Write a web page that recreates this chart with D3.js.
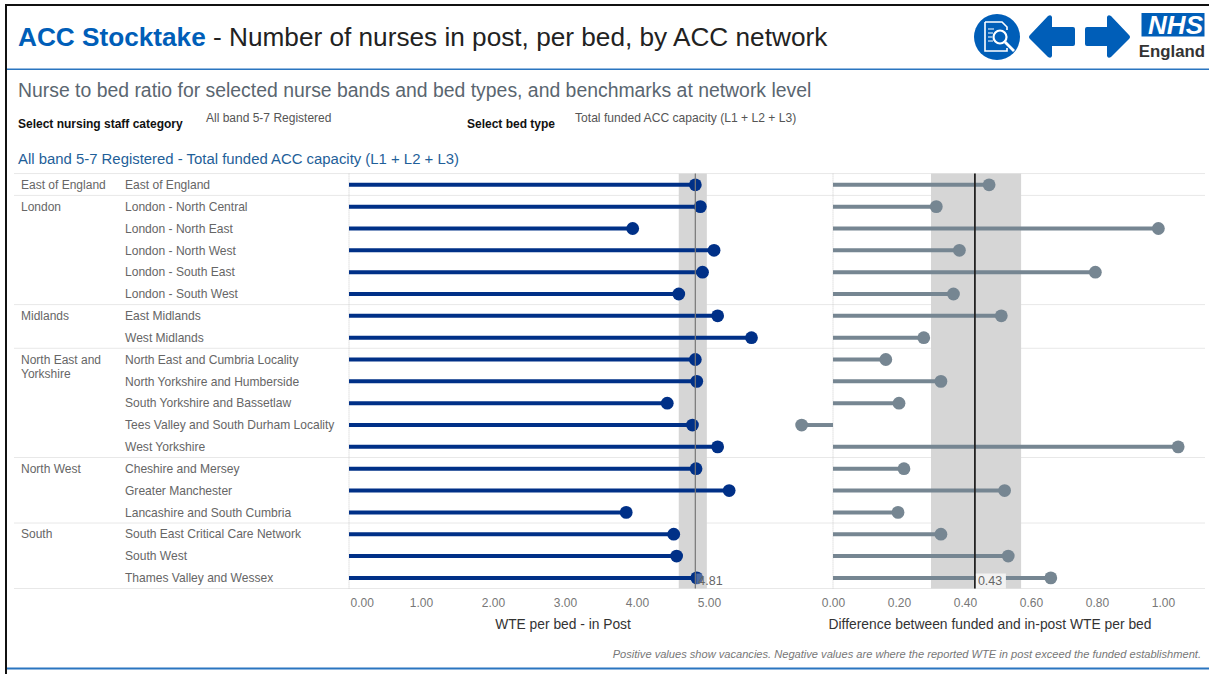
<!DOCTYPE html>
<html>
<head>
<meta charset="utf-8">
<script src="https://cdn.jsdelivr.net/npm/d3@7"></script>
<style>
html,body{margin:0;padding:0;background:#fff;}
svg{display:block;font-family:"Liberation Sans",Arial,sans-serif;}
.domain{display:none}
</style>
</head>
<body>
<svg id="chart" width="1209" height="674"></svg>
<script>
// ACC network nurse staffing figures
const regions = ["East of England","London","Midlands","North East and Yorkshire","North West","South"];
const regionSizes = [1,5,2,5,3,3];
const networks = [
  "East of England","London - North Central","London - North East","London - North West",
  "London - South East","London - South West","East Midlands","West Midlands",
  "North East and Cumbria Locality","North Yorkshire and Humberside","South Yorkshire and Bassetlaw",
  "Tees Valley and South Durham Locality","West Yorkshire","Cheshire and Mersey","Greater Manchester",
  "Lancashire and South Cumbria","South East Critical Care Network","South West","Thames Valley and Wessex"
];
const inPost = [4.81,4.88,3.94,5.07,4.91,4.58,5.12,5.59,4.81,4.83,4.42,4.77,5.12,4.82,5.28,3.85,4.51,4.55,4.83];
const difference = [0.473,0.313,0.986,0.383,0.795,0.365,0.51,0.275,0.16,0.327,0.20,-0.095,1.046,0.215,0.52,0.197,0.327,0.531,0.66];
const inPostTicks = [0,1,2,3,4,5];
const differenceTicks = [0,0.2,0.4,0.6,0.8,1];
const inPostBenchmark = 4.81, inPostBand = [4.58,4.97];
const differenceBenchmark = 0.43, differenceBand = [0.297,0.57];

const svg = d3.select("#chart");
const blue = "#005EB8", navy = "#003087", slate = "#768692";

const y = d3.scalePoint().domain(networks).range([184.5,577.6]);
const xLeft = d3.scaleLinear().domain([0,5]).range([349,709]);
const xRight = d3.scaleLinear().domain([0,1]).range([833,1163]);

// Page frame and rules
svg.append("rect").attr("x",5).attr("y",4).attr("width",1204).attr("height",2).attr("fill","#111");
svg.append("rect").attr("x",5).attr("y",4).attr("width",2).attr("height",670).attr("fill","#111");
svg.append("rect").attr("x",7).attr("y",68.5).attr("width",1202).attr("height",1.5).attr("fill","#2a75c0");
svg.append("rect").attr("x",7).attr("y",667.5).attr("width",1202).attr("height",2).attr("fill","#2a75c0");

// Headings
const title = svg.append("text").attr("x",18).attr("y",46).attr("font-size",26.2);
title.append("tspan").attr("fill",blue).attr("font-weight","bold").text("ACC Stocktake");
title.append("tspan").attr("fill","#222").text(" - Number of nurses in post, per bed, by ACC network");
svg.append("text").attr("x",18).attr("y",96.5).attr("font-size",19.4).attr("fill","#5a6670")
  .text("Nurse to bed ratio for selected nurse bands and bed types, and benchmarks at network level");
svg.append("text").attr("x",18).attr("y",128).attr("font-size",12).attr("font-weight","bold").attr("fill","#111").text("Select nursing staff category");
svg.append("text").attr("x",206).attr("y",122).attr("font-size",12).attr("fill","#555").text("All band 5-7 Registered");
svg.append("text").attr("x",467).attr("y",128).attr("font-size",12).attr("font-weight","bold").attr("fill","#111").text("Select bed type");
svg.append("text").attr("x",575).attr("y",122).attr("font-size",12.1).attr("fill","#555").text("Total funded ACC capacity (L1 + L2 + L3)");
svg.append("text").attr("x",18).attr("y",163.5).attr("font-size",14.9).attr("fill","#1f5f99").text("All band 5-7 Registered - Total funded ACC capacity (L1 + L2 + L3)");

// Horizontal separators between regions
const step = y.step();
let start = 0;
const rules = [y(networks[0]) - step/2];
regions.forEach((r,i)=>{
  svg.append("text").attr("class","region").attr("x",21).attr("y",y(networks[start])+4.5).attr("font-size",12).attr("fill","#666")
    .selectAll("tspan").data(r==="North East and Yorkshire"?["North East and","Yorkshire"]:[r]).join("tspan")
    .attr("x",21).attr("dy",(d,j)=>j?14.5:0).text(d=>d);
  start += regionSizes[i];
  rules.push(y(networks[start-1]) + step/2);
});
svg.selectAll("line.rule").data(rules).join("line").attr("class","rule")
  .attr("x1",14).attr("x2",1205).attr("y1",d=>d).attr("y2",d=>d).attr("stroke","#e8e8e8");

// Network names
svg.selectAll("text.network").data(networks).join("text").attr("class","network")
  .attr("x",125).attr("y",d=>y(d)+4.5).attr("font-size",12.05).attr("fill","#666").text(d=>d);

// One lollipop panel: band, zero line, stems, dots, benchmark, axis
function panel(x, values, band, benchmark, ticks, stemColor, benchColor, benchWidth, labelBg) {
  const g = svg.append("g");
  const top = rules[0], bottom = rules[rules.length-1];
  g.append("rect").attr("x",x(band[0])).attr("width",x(band[1])-x(band[0]))
    .attr("y",top).attr("height",bottom-top).attr("fill","#d6d6d6");
  g.append("line").attr("x1",x(0)).attr("x2",x(0)).attr("y1",top).attr("y2",bottom)
    .attr("stroke","#ccc").attr("stroke-dasharray","1,1");
  g.selectAll("line.stem").data(values).join("line").attr("class","stem")
    .attr("x1",x(0)).attr("x2",d=>x(d)).attr("y1",(d,i)=>y(networks[i])+0.3).attr("y2",(d,i)=>y(networks[i])+0.3)
    .attr("stroke",stemColor).attr("stroke-width",4);
  g.selectAll("circle").data(values).join("circle")
    .attr("cx",d=>x(d)).attr("cy",(d,i)=>y(networks[i])+0.3).attr("r",6.4).attr("fill",stemColor);
  g.append("line").attr("x1",x(benchmark)).attr("x2",x(benchmark)).attr("y1",top).attr("y2",bottom)
    .attr("stroke",benchColor).attr("stroke-width",benchWidth);
  g.append("rect").attr("x",x(benchmark)+1).attr("y",bottom-15).attr("width",labelBg.width).attr("height",15)
    .attr("fill",labelBg.fill).attr("fill-opacity",labelBg.opacity);
  g.append("text").attr("x",x(benchmark)+3).attr("y",bottom-4).attr("font-size",12.5).attr("fill","#666").text(benchmark.toFixed(2));
  const axis = g.append("g").attr("transform",`translate(0,${bottom})`)
    .call(d3.axisBottom(x).tickValues(ticks).tickSize(0).tickPadding(9.5).tickFormat(d3.format(".2f")));
  axis.selectAll("text").attr("font-family","inherit").attr("font-size",12).attr("fill","#777");
  return axis;
}
const leftAxis = panel(xLeft,inPost,inPostBand,inPostBenchmark,inPostTicks,navy,"#777",1.2,{fill:"#d6d6d6",opacity:0.35,width:10});
leftAxis.selectAll("text").filter(d=>d===0).attr("text-anchor","start").attr("dx",1);
panel(xRight,difference,differenceBand,differenceBenchmark,differenceTicks,slate,"#222",1.8,{fill:"#f2f2f2",opacity:1,width:30});

// Axis titles and footnote
svg.append("text").attr("x",563).attr("y",629).attr("text-anchor","middle").attr("font-size",13.8).attr("fill","#333").text("WTE per bed - in Post");
svg.append("text").attr("x",990).attr("y",629).attr("text-anchor","middle").attr("font-size",13.85).attr("fill","#333").text("Difference between funded and in-post WTE per bed");
svg.append("text").attr("x",1201).attr("y",658).attr("text-anchor","end").attr("font-size",11.1).attr("font-style","italic").attr("fill","#777")
  .text("Positive values show vacancies. Negative values are where the reported WTE in post exceed the funded establishment.");

// Navigation icons and logo
const icons = svg.append("g");
icons.append("circle").attr("cx",997).attr("cy",37).attr("r",23).attr("fill",blue);
icons.append("path").attr("d","M985 22h17l5 5v3M985 22v29h22v-3").attr("fill","none").attr("stroke","#fff").attr("stroke-width",1.6);
icons.append("path").attr("d","M988 29h6M988 33h5M988 37h4M988 41h5").attr("stroke","#fff").attr("stroke-width",1.2);
icons.append("circle").attr("cx",1000).attr("cy",37).attr("r",6.5).attr("fill","none").attr("stroke","#fff").attr("stroke-width",2.2);
icons.append("path").attr("d","M1005 42l9 9").attr("stroke","#fff").attr("stroke-width",2.8);
icons.append("path").attr("d","M1030 35L1048 16q3-2 4 1v10h21q2 0 2 2v15q0 2-2 2h-21v10q-1 3-4 1L1030 39q-2-2 0-4z").attr("fill",blue);
icons.append("path").attr("d","M1129 35L1111 16q-3-2-4 1v10h-20q-2 0-2 2v15q0 2 2 2h20v10q1 3 4 1L1129 39q2-2 0-4z").attr("fill",blue);
icons.append("rect").attr("x",1141.5).attr("y",13).attr("width",63).attr("height",23.5).attr("fill",blue);
icons.append("text").attr("x",1203).attr("y",34).attr("text-anchor","end").attr("font-size",26).attr("font-weight","bold").attr("font-style","italic").attr("fill","#fff").text("NHS");
icons.append("text").attr("x",1205).attr("y",57).attr("text-anchor","end").attr("font-size",16.8).attr("font-weight","bold").attr("fill","#333").text("England");
</script>
</body>
</html>
